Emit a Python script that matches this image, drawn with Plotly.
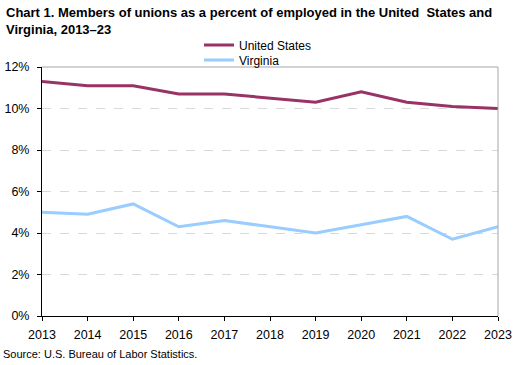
import plotly.graph_objects as go

years = [2013, 2014, 2015, 2016, 2017, 2018, 2019, 2020, 2021, 2022, 2023]
united_states = [11.3, 11.1, 11.1, 10.7, 10.7, 10.5, 10.3, 10.8, 10.3, 10.1, 10.0]
virginia = [5.0, 4.9, 5.4, 4.3, 4.6, 4.3, 4.0, 4.4, 4.8, 3.7, 4.3]
y_ticks = [0, 2, 4, 6, 8, 10, 12]
y_tick_labels = ["0%", "2%", "4%", "6%", "8%", "10%", "12%"]

font_family = "Liberation Sans, Arial, sans-serif"
W, H = 528, 365
L, R, T, B = 42, 30, 67, 49
PW, PH = W - L - R, H - T - B

fig = go.Figure()
fig.add_trace(go.Scatter(x=years, y=united_states, mode="lines", name="United States",
                         line=dict(color="#993366", width=3), legend="legend"))
fig.add_trace(go.Scatter(x=years, y=virginia, mode="lines", name="Virginia",
                         line=dict(color="#99CCFF", width=3), legend="legend2"))

leg_common = dict(xref="container", yref="container", xanchor="left", yanchor="middle",
                  font=dict(size=12, family=font_family), bgcolor="rgba(0,0,0,0)",
                  borderwidth=0, itemwidth=30)

fig.update_layout(
    width=W, height=H,
    margin=dict(l=L, r=R, t=T, b=B, autoexpand=False),
    paper_bgcolor="white", plot_bgcolor="white",
    font=dict(family=font_family, size=12, color="#000000"),
    showlegend=True,
    legend=dict(x=199 / W, y=1 - 45 / H, **leg_common),
    legend2=dict(x=199 / W, y=1 - 60 / H, **leg_common),
    xaxis=dict(range=[2013, 2023], tickmode="array", tickvals=years,
               showgrid=False, showline=True, linecolor="#000000", linewidth=1,
               ticks="outside", ticklen=4, tickcolor="#000000", zeroline=False,
               tickfont=dict(size=12.5), ticklabelstandoff=3, automargin=False),
    yaxis=dict(range=[0, 12], tickmode="array", tickvals=y_ticks, ticktext=y_tick_labels,
               showgrid=True, gridcolor="#d9d9d9", griddash="dash", gridwidth=1,
               showline=True, linecolor="#000000", linewidth=1,
               ticks="outside", ticklen=4, tickcolor="#000000", zeroline=False,
               tickfont=dict(size=12.5), ticklabelstandoff=5, automargin=False),
    shapes=[
        dict(type="line", xref="paper", yref="paper", x0=1, x1=1, y0=0, y1=1,
             line=dict(color="#a6a6a6", width=1)),
        dict(type="line", xref="paper", yref="paper", x0=0, x1=1, y0=1, y1=1,
             line=dict(color="#a6a6a6", width=1)),
    ],
    annotations=[
        dict(text="<b>Chart 1. Members of unions as a percent of employed in the United  States and<br>Virginia, 2013–23</b>",
             xref="paper", yref="paper", x=-(L - 4) / PW, y=1 + (T - 3) / PH,
             xanchor="left", yanchor="top", align="left", showarrow=False,
             font=dict(size=13, family=font_family)),
        dict(text="Source: U.S. Bureau of Labor Statistics.", xref="paper", yref="paper",
             x=-(L - 1) / PW, y=-(354 - T - PH) / PH, xanchor="left", yanchor="middle",
             showarrow=False, font=dict(size=11, family=font_family)),
    ],
)

fig.write_html("out.html", config={"displayModeBar": False},
               post_script="document.body.style.margin='0';")
